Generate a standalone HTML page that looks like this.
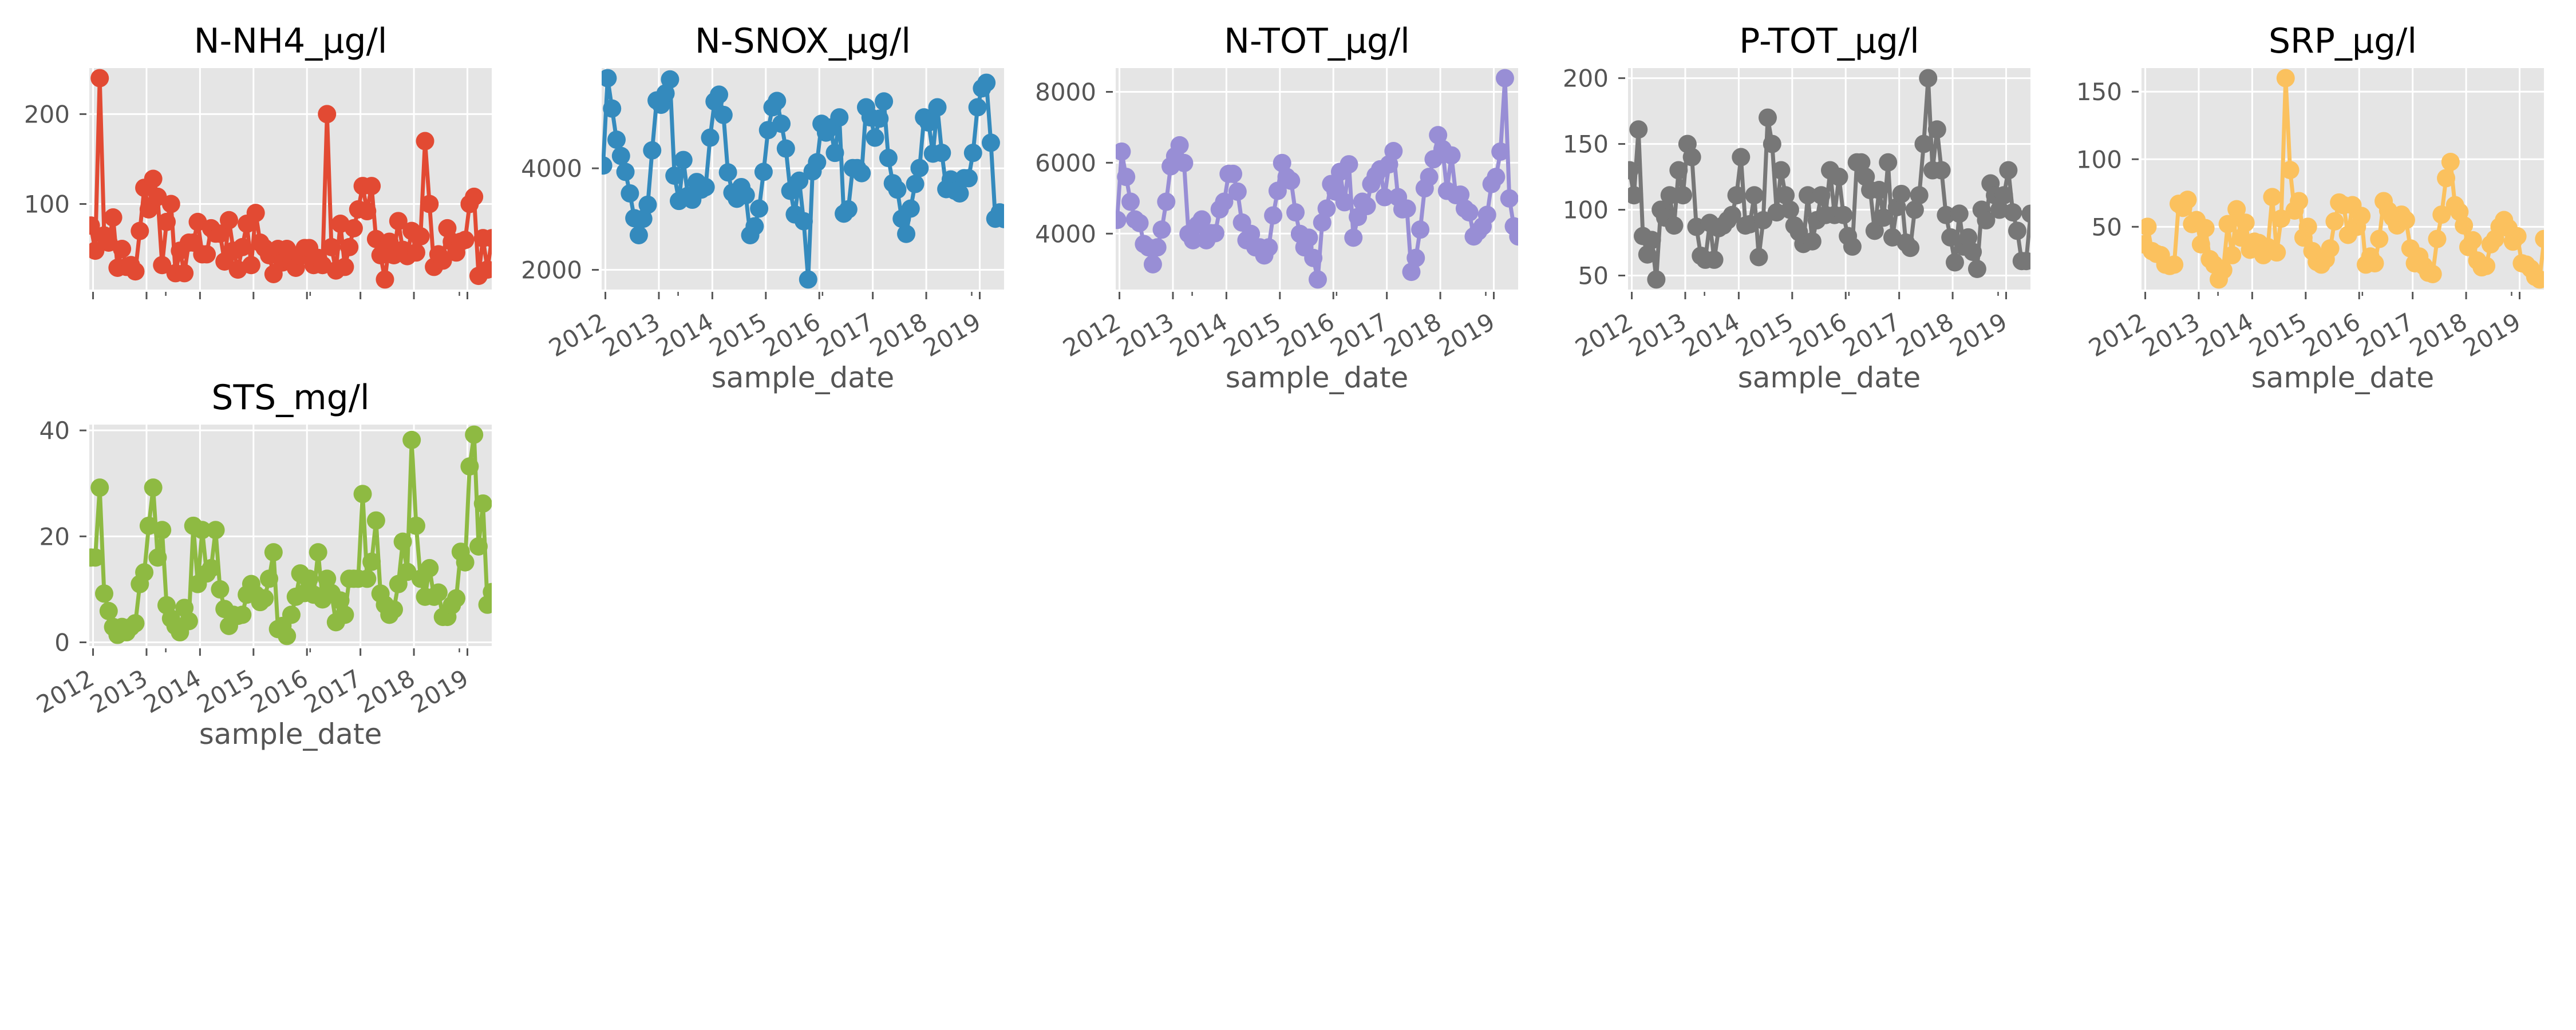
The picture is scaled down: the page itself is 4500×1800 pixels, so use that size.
<!DOCTYPE html>
<html><head><meta charset="utf-8"><style>
html,body{margin:0;padding:0;background:#fff;}
svg{display:block;font-family:"DejaVu Sans","Liberation Sans",sans-serif;}
</style></head><body>
<svg id="fig" width="4500" height="1800" viewBox="0 0 4500 1800" xmlns="http://www.w3.org/2000/svg"></svg>
<script>
const dates = ["2011-12","2012-01","2012-02","2012-03","2012-04","2012-05","2012-06","2012-07","2012-08","2012-09","2012-10","2012-11","2012-12",
"2013-01","2013-02","2013-03","2013-04","2013-05","2013-06","2013-07","2013-08","2013-09","2013-10","2013-11","2013-12",
"2014-01","2014-02","2014-03","2014-04","2014-05","2014-06","2014-07","2014-08","2014-09","2014-10","2014-11","2014-12",
"2015-01","2015-02","2015-03","2015-04","2015-05","2015-06","2015-07","2015-08","2015-09","2015-10","2015-11","2015-12",
"2016-01","2016-02","2016-03","2016-04","2016-05","2016-06","2016-07","2016-08","2016-09","2016-10","2016-11","2016-12",
"2017-01","2017-02","2017-03","2017-04","2017-05","2017-06","2017-07","2017-08","2017-09","2017-10","2017-11","2017-12",
"2018-01","2018-02","2018-03","2018-04","2018-05","2018-06","2018-07","2018-08","2018-09","2018-10","2018-11","2018-12",
"2019-01","2019-02","2019-03","2019-04","2019-05","2019-06"];
const nh4 = [76,48,240,65,57,85,29,50,30,32,25,70,118,94,128,108,32,80,100,23,48,23,57,57,80,44,44,73,67,67,36,82,48,27,52,78,32,90,57,51,43,22,50,35,50,35,29,42,51,51,32,40,32,200,52,26,78,30,52,73,94,120,92,120,61,43,16,58,43,81,49,42,70,46,64,170,100,30,44,37,73,58,46,58,60,100,108,20,62,27,62];
const snox = [4055,5776,5177,4564,4244,3930,3506,3017,2683,3007,3282,4354,5337,5252,5476,5751,3855,3357,4164,3456,3381,3730,3580,3630,4603,5317,5451,5052,3920,3521,3400,3630,3471,2683,2858,3207,3930,4753,5202,5327,4878,4389,3556,3092,3756,2958,1810,3940,4120,4878,4703,4803,4304,5003,3107,3192,4005,4005,3905,5202,5003,4603,4978,5317,4204,3706,3580,3007,2708,3207,3691,4005,5003,4903,4289,5202,4304,3590,3780,3556,3506,3805,3805,4304,5202,5576,5686,4504,3007,3132,3000];
const ntot = [4386,6314,5600,4900,4400,4300,3707,3614,3136,3614,4114,4900,5900,6186,6493,5993,3993,3814,4243,4400,3814,4014,4014,4686,4900,5686,5686,5186,4314,3814,3993,3614,3614,3386,3614,4514,5207,5993,5600,5493,4600,3993,3614,3886,3314,2707,4314,4707,5400,5186,5743,4886,5957,3886,4471,4900,4779,5400,5636,5814,5029,5957,6329,5029,4686,4707,2921,3314,4114,5279,5600,6100,6779,6386,5207,6207,5086,5100,4707,4600,3921,4064,4207,4529,5400,5600,6314,8386,4993,4207,3921];
const ptot = [130,111,161,80,66,77,47,100,94,111,88,130,111,150,140,87,65,62,90,62,86,88,92,96,111,140,88,89,111,64,92,170,150,98,130,111,100,88,83,74,111,76,92,111,96,130,96,125,96,80,72,136,136,125,115,84,115,94,136,79,102,112,75,71,100,111,150,200,130,161,130,96,79,60,97,72,79,68,55,100,92,120,111,100,111,130,98,84,61,61,97];
const srp = [37,50,32,30,29,22,21,22,67,64,70,52,55,37,49,26,22,11,18,52,29,63,42,53,33,39,38,29,35,72,31,56,160,92,62,69,42,50,32,24,22,26,34,54,68,66,44,66,50,58,22,28,23,41,69,62,57,51,59,55,34,23,28,21,16,15,41,59,86,98,66,61,51,35,40,25,20,21,37,41,50,55,49,39,43,23,22,19,13,11,41];
const sts = [16,16,29.2,9.2,5.9,2.9,1.4,2.9,1.9,2.9,3.6,11,13.2,22,29.2,16,21.2,7,4.5,3.1,1.9,6.5,4,22,11,21.2,13,14,21.2,10,6.3,3.1,5.2,5,5.2,9,11,9,7.6,8.3,12,17,2.5,3.1,1.2,5.2,8.6,13,9.3,12,9,17,8.1,12,9.3,3.8,7.9,5.2,12,12,12,28,12,15.2,23,9.2,7.1,5.2,6.2,11,19,13.3,38.2,22,12,8.6,14,8.6,9.4,4.8,4.8,7,8.3,17.1,15.1,33.2,39.2,18.1,26.2,7.1,9.5];
const yearTicks = [2012,2013,2014,2015,2016,2017,2018,2019];
const yearLabels = ["2012","2013","2014","2015","2016","2017","2018","2019"];
const minorTicks = [2013.36,2016.06,2018.85];
const titles = ["N-NH4_µg/l","N-SNOX_µg/l","N-TOT_µg/l","P-TOT_µg/l","SRP_µg/l","STS_mg/l"];
const ticksNH4 = [100,200];
const ticksSNOX = [2000,4000];
const ticksNTOT = [4000,6000,8000];
const ticksPTOT = [50,100,150,200];
const ticksSRP = [50,100,150];
const ticksSTS = [0,20,40];

const NS = "http://www.w3.org/2000/svg";
const svg = document.getElementById('fig');
function mk(tag, attrs, parent){ const e=document.createElementNS(NS,tag); for(const k in attrs) e.setAttribute(k,attrs[k]); (parent||svg).appendChild(e); return e; }
function toYear(s){ const p=s.split('-'); return +p[0] + (+p[1]-0.5)/12; }

const panels = [
 {key:'n-nh4', vals:nh4, ticks:ticksNH4, color:'#E24A33', left:156, top:119, xl:false},
 {key:'n-snox', vals:snox, ticks:ticksSNOX, color:'#348ABD', left:1051, top:119, xl:true},
 {key:'n-tot', vals:ntot, ticks:ticksNTOT, color:'#988ED5', left:1949, top:119, xl:true},
 {key:'p-tot', vals:ptot, ticks:ticksPTOT, color:'#777777', left:2844, top:119, xl:true},
 {key:'srp', vals:srp, ticks:ticksSRP, color:'#FBC15E', left:3741, top:119, xl:true},
 {key:'sts', vals:sts, ticks:ticksSTS, color:'#8EBA42', left:156, top:742, xl:true}
];
const W=703, H=387, XMIN=2011.93, XMAX=2019.455;

panels.forEach((p,pi)=>{
  const g = mk('g',{});
  
  
  let mn=Math.min(...p.vals), mx=Math.max(...p.vals); const m=(mx-mn)*0.05; mn-=m; mx+=m;
  const xs = v => p.left + (v-XMIN)/(XMAX-XMIN)*W;
  const ys = v => p.top + H - (v-mn)/(mx-mn)*H;
  const bottom = p.top+H;
  const bg = mk('rect',{x:p.left,y:p.top,width:W,height:H,fill:'#E5E5E5'},g);
  
  
  yearTicks.forEach((yr,i)=>{
    const x=xs(yr);
    const gl=mk('line',{x1:x,x2:x,y1:p.top,y2:bottom,stroke:'#fff','stroke-width':3},g);
    
    
    const tk=mk('line',{x1:x,x2:x,y1:bottom+4,y2:bottom+17,stroke:'#555','stroke-width':3},g);
    
    
    if(p.xl){
      const ax=x+5, ay=bottom+65;
      const t=mk('text',{x:ax,y:ay,'text-anchor':'end','font-size':42,fill:'#555',transform:`rotate(-30 ${ax} ${ay})`},g);
      t.textContent=yearLabels[i];
      
      
    }
  });
  minorTicks.forEach(yr=>{
    const x=xs(yr);
    const mt=mk('line',{x1:x,x2:x,y1:bottom+4,y2:bottom+11,stroke:'#555','stroke-width':2.5},g);
    
    
  });
  p.ticks.forEach(v=>{
    const y=ys(v);
    const gl=mk('line',{x1:p.left,x2:p.left+W,y1:y,y2:y,stroke:'#fff','stroke-width':3},g);
    
    
    const tk=mk('line',{x1:p.left-17,x2:p.left-5,y1:y,y2:y,stroke:'#555','stroke-width':3},g);
    
    
    const t=mk('text',{x:p.left-34,y:y+15,'text-anchor':'end','font-size':42,fill:'#555'},g);
    t.textContent=String(v);
    
    
  });
  const clipId='clip'+pi;
  const cp=mk('clipPath',{id:clipId},g);
  mk('rect',{x:p.left,y:p.top,width:W,height:H},cp);
  const sg=mk('g',{'clip-path':`url(#${clipId})`},g);
  
  
  const pts=p.vals.map((v,i)=>xs(toYear(dates[i])).toFixed(1)+','+ys(v).toFixed(1)).join(' ');
  const ln=mk('polyline',{points:pts,fill:'none',stroke:p.color,'stroke-width':7,'stroke-linejoin':'round'},sg);
  
  
  p.vals.forEach((v,i)=>{
    const c=mk('circle',{cx:xs(toYear(dates[i])),cy:ys(v),r:16,fill:p.color},sg);
    
    
  });
  const tt=mk('text',{x:p.left+W/2,y:p.top-27,'text-anchor':'middle','font-size':60,fill:'#000'},g);
  tt.textContent=titles[pi];
  
  
  if(p.xl){
    const xt=mk('text',{x:p.left+W/2,y:bottom+171,'text-anchor':'middle','font-size':50,fill:'#555'},g);
    xt.textContent='sample_date';
    
    
  }
});
</script>
</body></html>
